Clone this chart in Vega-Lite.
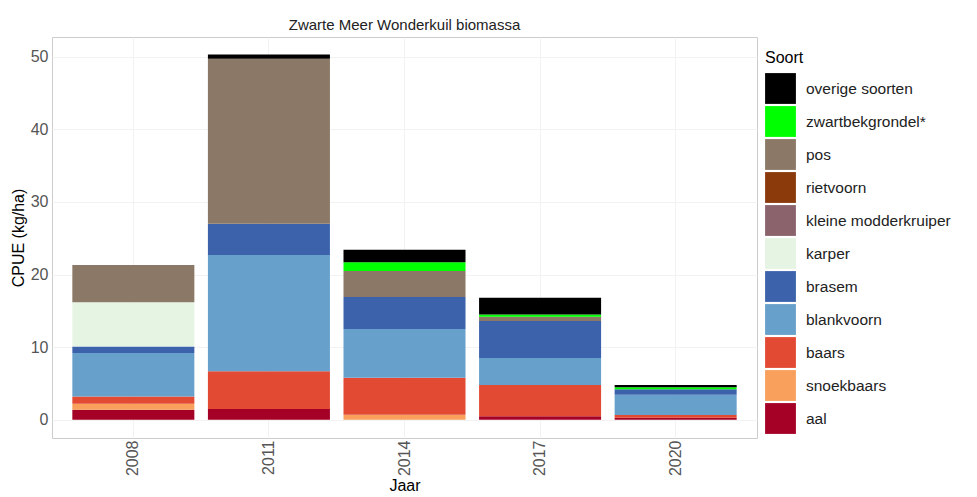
{
  "$schema": "https://vega.github.io/schema/vega-lite/v6.json",
  "autosize": {"type": "none"},
  "padding": {"left": 52, "top": 37, "right": 220, "bottom": 59},
  "width": 705,
  "height": 401,
  "title": {"text": "Zwarte Meer Wonderkuil biomassa", "font": "Liberation Sans", "fontSize": 15, "fontWeight": "normal", "color": "#222222", "offset": 4, "anchor": "middle"},
  "config": {
    "font": "Liberation Sans",
    "view": {"stroke": "#cccccc", "strokeWidth": 1},
    "axis": {"domain": false, "ticks": false, "gridColor": "#f2f2f2", "labelColor": "#555555", "labelFontSize": 16, "titleFontSize": 16, "titleFontWeight": "normal", "titleColor": "#000000"}
  },
  "data": {"values": [
    {"Jaar": "2008", "Soort": "aal", "CPUE": 1.4},
    {"Jaar": "2008", "Soort": "snoekbaars", "CPUE": 0.8},
    {"Jaar": "2008", "Soort": "baars", "CPUE": 1.0},
    {"Jaar": "2008", "Soort": "blankvoorn", "CPUE": 6.0},
    {"Jaar": "2008", "Soort": "brasem", "CPUE": 0.9},
    {"Jaar": "2008", "Soort": "karper", "CPUE": 6.1},
    {"Jaar": "2008", "Soort": "pos", "CPUE": 5.1},
    {"Jaar": "2011", "Soort": "aal", "CPUE": 1.5},
    {"Jaar": "2011", "Soort": "baars", "CPUE": 5.2},
    {"Jaar": "2011", "Soort": "blankvoorn", "CPUE": 16.0},
    {"Jaar": "2011", "Soort": "brasem", "CPUE": 4.3},
    {"Jaar": "2011", "Soort": "pos", "CPUE": 22.7},
    {"Jaar": "2011", "Soort": "overige soorten", "CPUE": 0.6},
    {"Jaar": "2014", "Soort": "snoekbaars", "CPUE": 0.7},
    {"Jaar": "2014", "Soort": "baars", "CPUE": 5.1},
    {"Jaar": "2014", "Soort": "blankvoorn", "CPUE": 6.7},
    {"Jaar": "2014", "Soort": "brasem", "CPUE": 4.4},
    {"Jaar": "2014", "Soort": "pos", "CPUE": 3.6},
    {"Jaar": "2014", "Soort": "zwartbekgrondel*", "CPUE": 1.2},
    {"Jaar": "2014", "Soort": "overige soorten", "CPUE": 1.7},
    {"Jaar": "2017", "Soort": "aal", "CPUE": 0.5},
    {"Jaar": "2017", "Soort": "baars", "CPUE": 4.3},
    {"Jaar": "2017", "Soort": "blankvoorn", "CPUE": 3.7},
    {"Jaar": "2017", "Soort": "brasem", "CPUE": 5.1},
    {"Jaar": "2017", "Soort": "pos", "CPUE": 0.6},
    {"Jaar": "2017", "Soort": "zwartbekgrondel*", "CPUE": 0.3},
    {"Jaar": "2017", "Soort": "overige soorten", "CPUE": 2.3},
    {"Jaar": "2020", "Soort": "aal", "CPUE": 0.3},
    {"Jaar": "2020", "Soort": "baars", "CPUE": 0.35},
    {"Jaar": "2020", "Soort": "blankvoorn", "CPUE": 2.8},
    {"Jaar": "2020", "Soort": "brasem", "CPUE": 0.75},
    {"Jaar": "2020", "Soort": "zwartbekgrondel*", "CPUE": 0.3},
    {"Jaar": "2020", "Soort": "overige soorten", "CPUE": 0.3}
  ]},
  "transform": [
    {"calculate": "indexof(['overige soorten', 'zwartbekgrondel*', 'pos', 'rietvoorn', 'kleine modderkruiper', 'karper', 'brasem', 'blankvoorn', 'baars', 'snoekbaars', 'aal'], datum.Soort)", "as": "volgorde"}
  ],
  "mark": {"type": "bar"},
  "encoding": {
    "x": {"field": "Jaar", "type": "nominal", "title": "Jaar",
      "scale": {"paddingInner": 0.1, "paddingOuter": 0.15},
      "axis": {"labelAngle": 270, "grid": true, "labelPadding": 2, "titlePadding": 2}},
    "y": {"field": "CPUE", "type": "quantitative", "stack": "zero", "title": "CPUE (kg/ha)",
      "scale": {"domain": [-2.5, 52.7], "nice": false, "zero": false},
      "axis": {"values": [0, 10, 20, 30, 40, 50], "grid": true, "labelPadding": 4, "titlePadding": 4}},
    "order": {"field": "volgorde", "type": "quantitative", "sort": "descending"},
    "color": {"field": "Soort", "type": "nominal",
      "scale": {
        "domain": ["overige soorten", "zwartbekgrondel*", "pos", "rietvoorn", "kleine modderkruiper", "karper", "brasem", "blankvoorn", "baars", "snoekbaars", "aal"],
        "range": ["#000000", "#00ff00", "#8b7866", "#8b3a0c", "#8b636c", "#e6f4e4", "#3b62aa", "#67a0cb", "#e34a33", "#f8a05c", "#a50026"]},
      "legend": {"title": "Soort", "titleFontSize": 16, "titleFontWeight": "normal", "titleColor": "#000000", "titlePadding": 7,
        "symbolType": "square", "symbolSize": 950, "symbolStrokeWidth": 0, "symbolOpacity": 1,
        "labelFontSize": 15.5, "labelColor": "#222222", "labelOffset": 10, "rowPadding": 2, "offset": -5, "padding": 13}}
  }
}
